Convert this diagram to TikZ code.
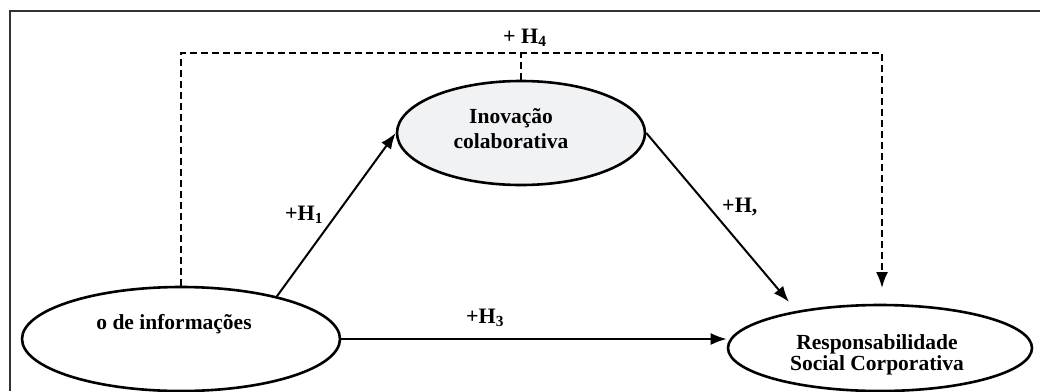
\documentclass[tikz,border=0pt]{standalone}
\usepackage{fontspec}
\setmainfont{Liberation Serif}
\usetikzlibrary{shapes.geometric,arrows.meta}
\definecolor{inofill}{RGB}{241,242,244}
\definecolor{framecol}{RGB}{50,50,50}
\begin{document}
\begin{tikzpicture}[x=1pt,y=-1pt,
  ell/.style={draw=black,line width=2.6pt,ellipse,inner sep=0pt},
  txt/.style={font=\fontsize{21.5}{25}\selectfont\bfseries,inner sep=0pt,anchor=base},
  lbl/.style={font=\fontsize{22}{26}\selectfont\bfseries,inner sep=0pt,anchor=base west},
  arr/.style={line width=2pt,-{Latex[length=16pt,width=12pt]}},
  darr/.style={line width=2pt,dash pattern=on 7pt off 4pt,-{Latex[length=16pt,width=12pt]}},
  dline/.style={line width=2pt,dash pattern=on 7pt off 4pt}]
\useasboundingbox (0,0) rectangle (1040,391);
% frame (top and left edges visible)
\draw[framecol,line width=2.6pt] (10,391) -- (10,11) -- (1040,11);
% ellipses
\node[ell,fill=inofill,minimum width=248pt,minimum height=104pt] (ino) at (521,133) {};
\node[ell,minimum width=318pt,minimum height=104pt] (lse) at (181,339) {};
\node[ell,minimum width=304pt,minimum height=86pt] (rse) at (880,348) {};
% texts
\node[txt] (ino1) at (511,123) {Inovação};
\node[txt] (ino2) at (511,148) {colaborativa};
\node[txt] (lse1) at (174,329) {o de informações};
\node[txt] (rse1) at (877,349) {Responsabilidade};
\node[txt] (rse2) at (877,370) {Social Corporativa};
% coordinates
\coordinate (h2tip) at (789,302);
\coordinate (dl) at (181,53);
\coordinate (dr) at (882,53);
\coordinate (h4tip) at (882,288);
% connectors
\draw[arr] (lse.24) -- (ino.west);
\draw[arr] (ino.east) -- (h2tip);
\draw[arr] (lse.east) -- (rse.west |- lse.east);
\draw[darr] (lse.north) -- (dl) -- (dr) -- (h4tip);
\draw[dline] (ino.north) -- (ino.north |- dl);
% labels
\node[lbl] (l1) at (285,220) {+H\textsubscript{1}};
\node[lbl] (l2) at (722,212) {+H,};
\node[lbl] (l3) at (466,323) {+H\textsubscript{3}};
\node[lbl] (l4) at (503,43) {+ H\textsubscript{4}};
\end{tikzpicture}
\end{document}
